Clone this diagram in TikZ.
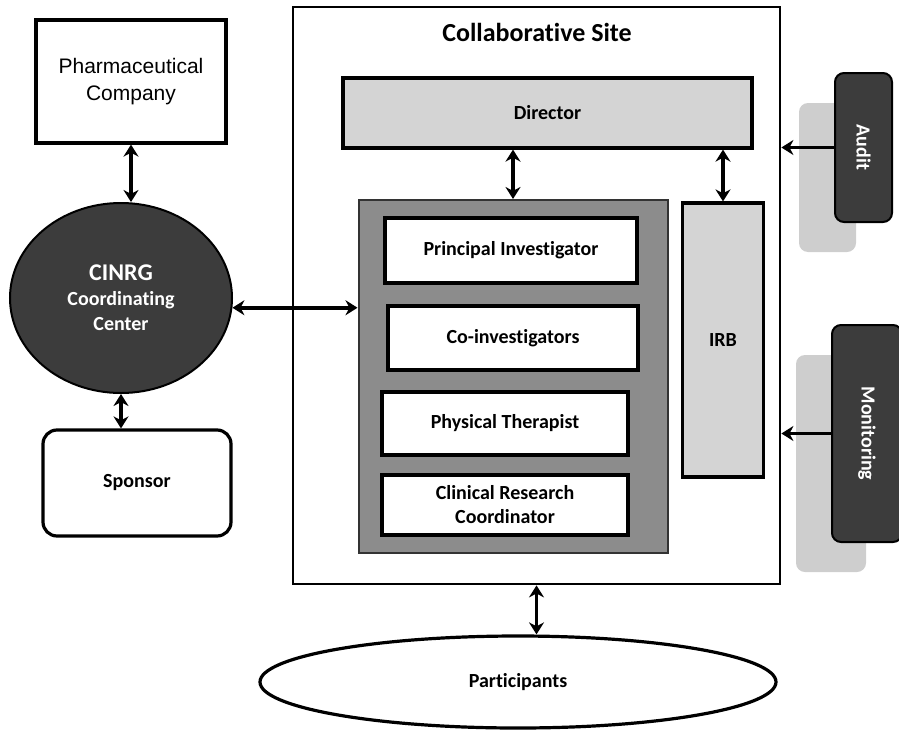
\documentclass[tikz,border=0pt]{standalone}
\usepackage{fontspec}
\setmainfont{Carlito}[Ligatures=NoCommon]
\newfontfamily\gothic{Liberation Sans}
\usetikzlibrary{shapes.geometric,arrows.meta,shadows}
\definecolor{darkfill}{HTML}{3C3C3C}
\definecolor{midfill}{HTML}{8C8C8C}
\definecolor{lightfill}{HTML}{D4D4D4}

\begin{document}
\begin{tikzpicture}[x=1pt,y=-1pt,
    box/.style={draw,line width=3.2pt,fill=white,inner sep=0pt,align=center,
      font=\bfseries\fontsize{20}{24}\selectfont},
    darknode/.style={box,fill=darkfill,text=white},
    sidebox/.style={darknode,rounded corners=9pt,line width=2pt,
      font=\bfseries\fontsize{20}{24}\selectfont,
      drop shadow={shadow xshift=-36pt,shadow yshift=-30pt,fill=gray!70,opacity=.55}},
    link/.style={line width=3.8pt,{Stealth[length=12pt,width=15pt]}-{Stealth[length=12pt,width=15pt]}},
    onelink/.style={line width=3.8pt,-{Stealth[length=12pt,width=15pt]}}]
        \useasboundingbox (0,0) rectangle (899,731);

        \node[box,minimum width=190,minimum height=123,font=\gothic\fontsize{21}{27}\selectfont]
          (pharma) at (131,81.5) {Pharmaceutical\\Company};
        \node[darknode,ellipse,line width=2pt,minimum width=222,minimum height=190,
          font=\bfseries\fontsize{20}{25}\selectfont]
          (cinrg) at (121,298) {{\fontsize{24}{28}\selectfont CINRG}\\Coordinating\\Center};
        \node[box,rounded corners=14pt,minimum width=188,minimum height=106]
          (sponsor) at (137,483) {Sponsor};

        \node[draw,line width=2.8pt,minimum width=487,minimum height=577]
          (site) at (536.5,295.5) {};
        \node[font=\bfseries\fontsize{26}{30}\selectfont] (title) at (537,32) {Collaborative Site};
        \node[box,fill=lightfill,minimum width=409,minimum height=70]
          (director) at (547.5,113) {Director};
        \node[draw=black!80,line width=2pt,fill=midfill,minimum width=309,minimum height=353]
          (team) at (513,376.5) {};
        \node[box,fill=lightfill,minimum width=81,minimum height=274]
          (irb) at (723,340) {IRB};

        \node[box,minimum width=252,minimum height=65] (pi) at (511,250.5) {Principal Investigator};
        \node[box,minimum width=250,minimum height=64] (coi) at (513,338) {Co-investigators};
        \node[box,minimum width=246,minimum height=63] (pt) at (505,423.5) {Physical Therapist};
        \node[box,minimum width=246,minimum height=60] (crc) at (505,505) {Clinical Research\\Coordinator};

        \node[sidebox,minimum width=57,minimum height=149]
          (audit) at (863.5,147.5) {\rotatebox{-90}{Audit}};
        \node[sidebox,minimum width=70,minimum height=217]
          (monitor) at (867,433.5) {\rotatebox{-90}{Monitoring}};

        \node[box,ellipse,minimum width=516,minimum height=92]
          (participants) at (518,682) {Participants};

        \draw[link] (pharma.south) -- (pharma.south |- cinrg.north);
        \draw[link] (cinrg.south) -- (cinrg.south |- sponsor.north);
        \draw[link] (cinrg.-5) -- (cinrg.-5 -| team.west);
        \draw[link] (team.north) -- (team.north |- director.south);
        \draw[link] (irb.north) -- (irb.north |- director.south);
        \draw[onelink] (audit.west) -- (audit.west -| site.east);
        \draw[onelink] (monitor.west) -- (monitor.west -| site.east);
        \draw[link] (site.south) -- (site.south |- participants.north);

      \end{tikzpicture}
\end{document}
